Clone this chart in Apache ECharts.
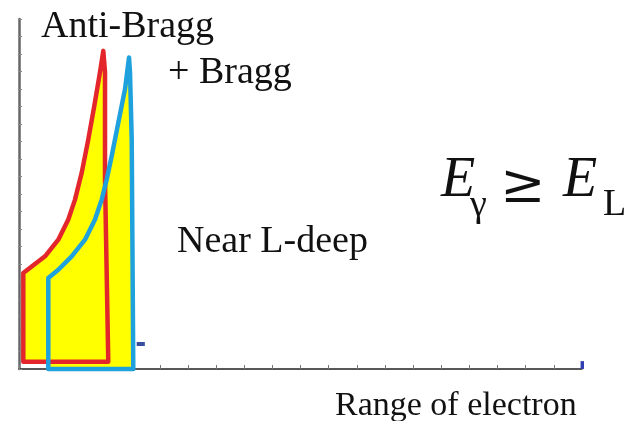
<!DOCTYPE html>
<html><head><meta charset="utf-8">
<script src="https://cdn.jsdelivr.net/npm/echarts@6/dist/echarts.min.js"></script>
<style>html,body{margin:0;padding:0;background:#fff}#c{width:632px;height:421px}</style>
</head><body><div id="c"></div>
<script>
// Anti-Bragg (red) outline polygon
const redX = [0.153, 0.153, 0.451, 0.924, 1.396, 1.751, 1.989, 2.167, 2.227, 2.462, 2.675, 2.877, 2.995, 3.055, 3.055, 3.172];
const redY = [0.42, 5.48, 5.86, 6.44, 7.39, 8.54, 9.68, 10.83, 11.21, 13.12, 15.03, 16.95, 18.18, 16.95, 10.83, 0.42];
// Bragg (blue) outline polygon
const blueX = [1.041, 1.041, 1.396, 1.872, 2.345, 2.700, 2.938, 3.115, 3.293, 3.528, 3.766, 3.908, 3.943, 4.004, 4.06];
const blueY = [0.0, 5.20, 5.67, 6.44, 7.39, 8.54, 9.68, 10.83, 12.17, 14.08, 15.99, 17.80, 16.95, 13.12, 0.0];
// small dark-blue marks
const dashX = [4.18, 4.47];
const dashY = [1.43, 1.43];
const endX = [20.02, 20.02];
const endY = [0, 0.45];
// axis ranges
const xRange = [0, 20];
const yRange = [0, 20];

const SERIF = '"Liberation Serif", "DejaVu Serif", serif';

function poly(xs, ys, fill, stroke, lw) {
  const data = xs.map((x, i) => [x, ys[i]]);
  return {
    type: 'custom', data: data, clip: false, silent: true,
    renderItem: function (params, api) {
      if (params.dataIndex !== 0) return;
      const pts = data.map(d => api.coord(d));
      return {
        type: 'polygon', shape: { points: pts },
        style: { fill: fill, stroke: stroke, lineWidth: lw, lineJoin: 'round' }
      };
    }
  };
}
function seg(xs, ys, color, w) {
  return { type: 'line', data: xs.map((x, i) => [x, ys[i]]), symbol: 'none', silent: true,
    lineStyle: { color: color, width: w, cap: 'butt' } };
}

const chart = echarts.init(document.getElementById('c'), null, { renderer: 'canvas' });
chart.setOption({
  animation: false,
  backgroundColor: '#ffffff',
  grid: { left: 19, right: 50, top: 19, bottom: 52, containLabel: false },
  xAxis: {
    type: 'value', min: xRange[0], max: xRange[1], interval: 1,
    axisLine: { show: true, lineStyle: { color: '#222', width: 1.5 } },
    axisTick: { show: true, inside: true, length: 4, lineStyle: { color: '#777', width: 1 } },
    axisLabel: { show: false }, splitLine: { show: false }
  },
  yAxis: {
    type: 'value', min: yRange[0], max: yRange[1], interval: 1,
    axisLine: { show: true, lineStyle: { color: '#666', width: 2.5 } },
    axisTick: { show: true, inside: true, length: 3, lineStyle: { color: '#888', width: 1 } },
    axisLabel: { show: false }, splitLine: { show: false }
  },
  series: [
    poly(redX, redY, '#ffff00', 'rgba(0,0,0,0)', 0),
    poly(blueX, blueY, '#ffff00', 'rgba(0,0,0,0)', 0),
    poly(redX, redY, 'rgba(0,0,0,0)', '#e3262b', 4.5),
    poly(blueX, blueY, 'rgba(0,0,0,0)', '#1fa1de', 4.5),
    seg(dashX, dashY, '#3a4ea0', 4),
    seg(endX, endY, '#3040b0', 4)
  ],
  graphic: [
    { type: 'text', x: 41, y: 8.5, style: { text: 'Anti-Bragg', font: '38px ' + SERIF, fill: '#111' } },
    { type: 'text', x: 168, y: 54.5, style: { text: '+ Bragg', font: '38px ' + SERIF, fill: '#111' } },
    { type: 'text', x: 177, y: 223.5, style: { text: 'Near L-deep', font: '38px ' + SERIF, fill: '#111' } },
    { type: 'text', x: 335, y: 389.5, style: { text: 'Range of electron', font: '34px ' + SERIF, fill: '#111' } },
    { type: 'text', x: 441, y: 153, style: { text: 'E', font: 'italic 56px ' + SERIF, fill: '#111' } },
    { type: 'text', x: 470, y: 187, style: { text: 'γ', font: '38px ' + SERIF, fill: '#111' } },
    { type: 'text', x: 500, y: 161, style: { text: '≥', font: '54px "DejaVu Serif", serif', fill: '#111' } },
    { type: 'text', x: 563, y: 153, style: { text: 'E', font: 'italic 56px ' + SERIF, fill: '#111' } },
    { type: 'text', x: 603, y: 186.5, style: { text: 'L', font: '38px ' + SERIF, fill: '#111' } }
  ]
});
</script></body></html>
